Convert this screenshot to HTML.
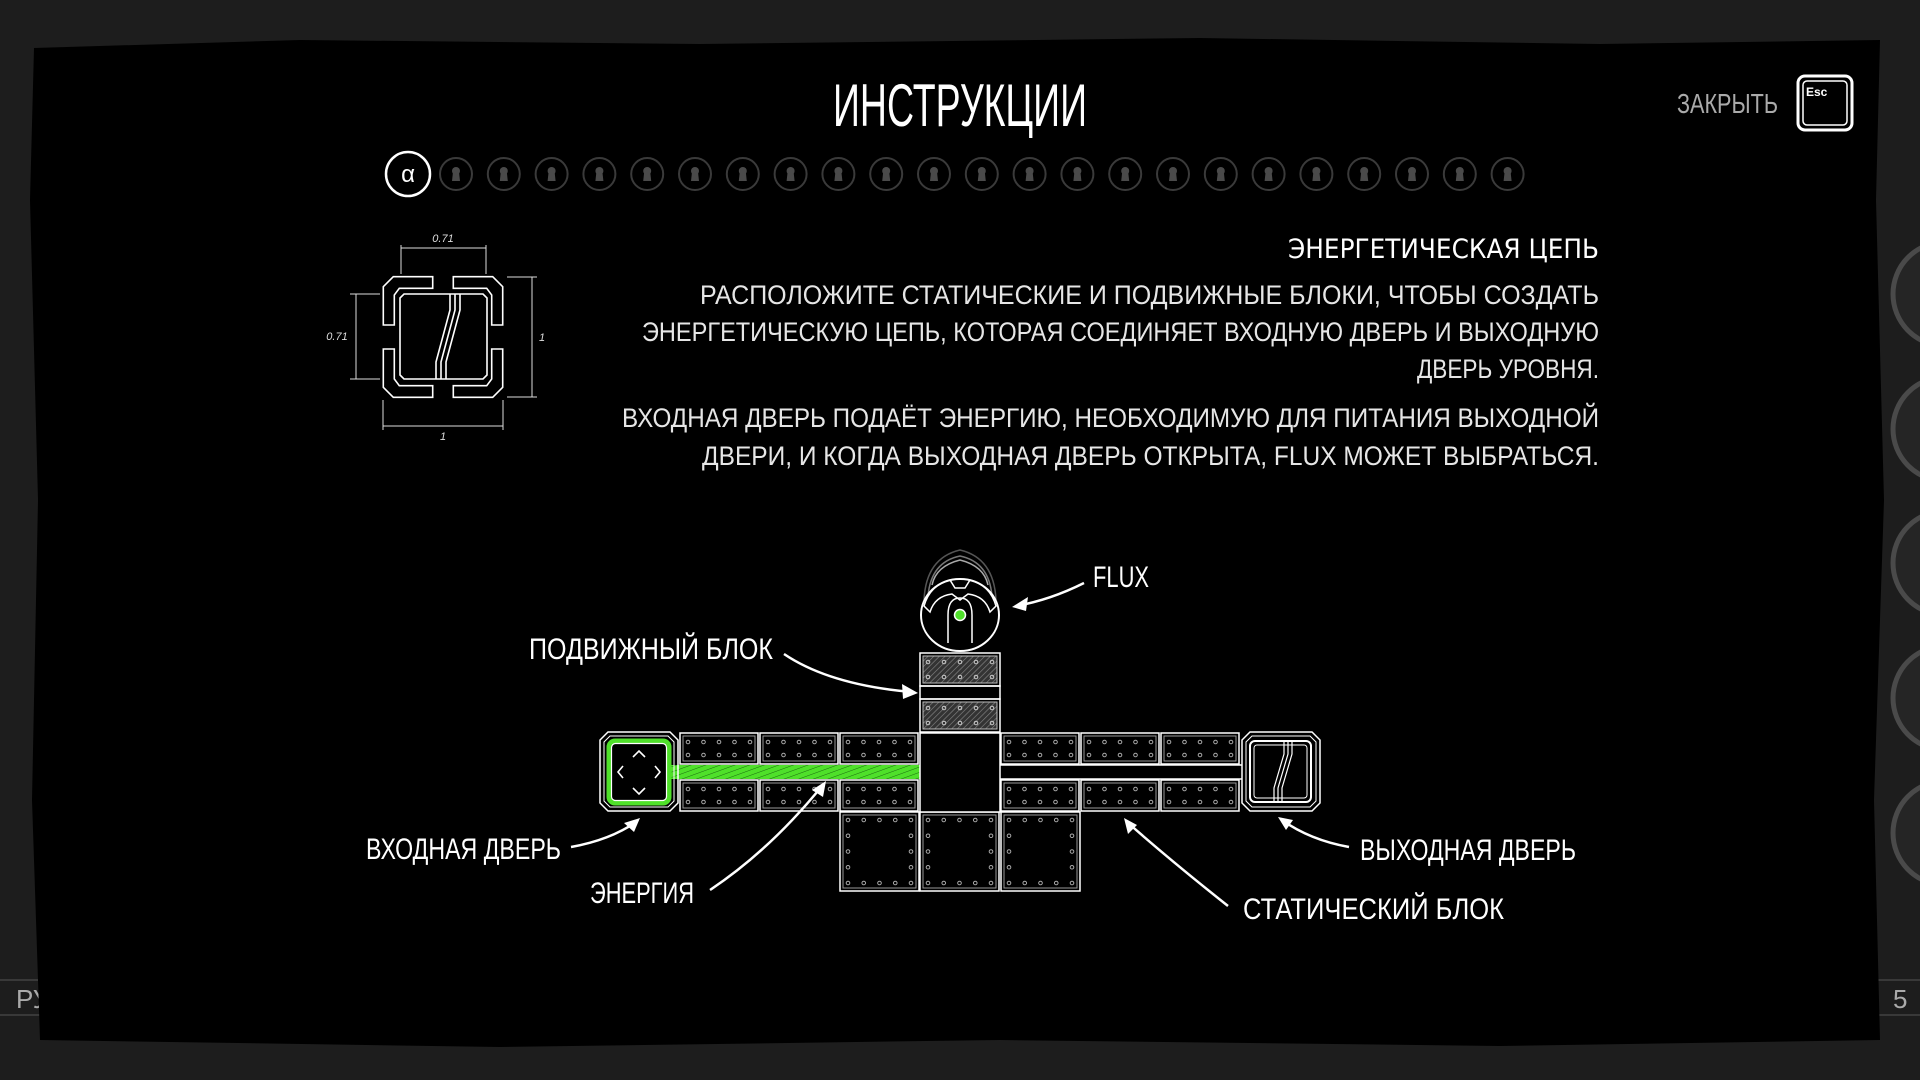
<!DOCTYPE html>
<html><head><meta charset="utf-8"><style>
html,body{margin:0;padding:0;background:#1c1c1c;width:1920px;height:1080px;overflow:hidden}
svg{display:block}
text{font-family:"DejaVu Sans ExtraLight","Liberation Sans Narrow","Liberation Sans",sans-serif}
</style></head><body>
<svg id="s" width="1920" height="1080" viewBox="0 0 1920 1080" xmlns="http://www.w3.org/2000/svg">
<defs>
<pattern id="hatch" width="4" height="4" patternUnits="userSpaceOnUse" patternTransform="rotate(45)">
<rect width="4" height="4" fill="#333"/><line x1="0" y1="0" x2="0" y2="4" stroke="#888" stroke-width="1.2"/></pattern>
<pattern id="ghatch" width="5" height="5" patternUnits="userSpaceOnUse" patternTransform="rotate(70)">
<rect width="5" height="5" fill="#4fe02a"/><line x1="0" y1="0" x2="0" y2="5" stroke="#1a6a10" stroke-width="1"/></pattern>
</defs>
<rect width="1920" height="1080" fill="#1d1d1d"/>
<g fill="#252525" stroke="#4a4a4a" stroke-width="5">
<circle cx="1945" cy="294" r="52"/><circle cx="1945" cy="429" r="52"/><circle cx="1945" cy="563" r="52"/><circle cx="1945" cy="698" r="52"/><circle cx="1945" cy="833" r="52"/>
</g>
<line x1="0" y1="980" x2="60" y2="980" stroke="#555"/><line x1="0" y1="1015" x2="60" y2="1015" stroke="#555"/>
<line x1="1860" y1="980" x2="1920" y2="980" stroke="#555"/><line x1="1860" y1="1015" x2="1920" y2="1015" stroke="#555"/>
<text x="16" y="1008" fill="#aaa" font-size="26">РУ</text>
<text x="1893" y="1008" fill="#aaa" font-size="26">5</text>
<path d="M34,48 L300,40 L700,44 L1200,38 L1600,44 L1880,40 L1876,200 L1884,500 L1874,800 L1880,1040 L1500,1046 L1000,1040 L500,1047 L40,1040 L32,800 L38,500 L30,200 Z" fill="#000"/>
<text x="960" y="126" fill="#fff" font-size="60" text-anchor="middle" textLength="254" lengthAdjust="spacingAndGlyphs">ИНСТРУКЦИИ</text>
<text x="1677" y="113" fill="#aaa" font-size="28" textLength="101" lengthAdjust="spacingAndGlyphs">ЗАКРЫТЬ</text>
<rect x="1798" y="76" width="54" height="54" rx="7" fill="none" stroke="#fff" stroke-width="3"/>
<rect x="1803" y="81" width="44" height="44" rx="4" fill="#000" stroke="#fff" stroke-width="1.5"/>
<text x="1806" y="96" fill="#fff" font-size="12" font-weight="bold" style="font-family:'Liberation Sans',sans-serif">Esc</text>
<circle cx="408" cy="174" r="22" fill="none" stroke="#fff" stroke-width="2.5"/>
<text x="408" y="182" fill="#fff" font-size="24" text-anchor="middle" style="font-family:'Liberation Sans',sans-serif">α</text>
<g id="dots"></g>
<text x="1288" y="258" fill="#fff" font-size="27" font-weight="bold" textLength="311" lengthAdjust="spacingAndGlyphs" style="font-family:'DejaVu Sans','Liberation Sans',sans-serif;font-weight:normal">ЭНЕРГЕТИЧЕСКАЯ ЦЕПЬ</text>
<g fill="#e6e6e6" font-size="27">
<text x="700" y="304" textLength="899" lengthAdjust="spacingAndGlyphs">РАСПОЛОЖИТЕ СТАТИЧЕСКИЕ И ПОДВИЖНЫЕ БЛОКИ, ЧТОБЫ СОЗДАТЬ</text>
<text x="642" y="341" textLength="957" lengthAdjust="spacingAndGlyphs">ЭНЕРГЕТИЧЕСКУЮ ЦЕПЬ, КОТОРАЯ СОЕДИНЯЕТ ВХОДНУЮ ДВЕРЬ И ВЫХОДНУЮ</text>
<text x="1417" y="378" textLength="182" lengthAdjust="spacingAndGlyphs">ДВЕРЬ УРОВНЯ.</text>
<text x="622" y="427" textLength="977" lengthAdjust="spacingAndGlyphs">ВХОДНАЯ ДВЕРЬ ПОДАЁТ ЭНЕРГИЮ, НЕОБХОДИМУЮ ДЛЯ ПИТАНИЯ ВЫХОДНОЙ</text>
<text x="702" y="465" textLength="897" lengthAdjust="spacingAndGlyphs">ДВЕРИ, И КОГДА ВЫХОДНАЯ ДВЕРЬ ОТКРЫТА, FLUX МОЖЕТ ВЫБРАТЬСЯ.</text>
</g>
<g fill="none" stroke="#fff" stroke-width="1.6">
<g id="cornerTL"><path d="M432.7,276.7 L393.3,276.7 L383.3,286.7 L383.3,325 L394.3,325 L394.3,295 L399.3,288.3 L432.7,288.3 Z"/></g>
<use href="#cornerTL" transform="translate(886,0) scale(-1,1)"/>
<use href="#cornerTL" transform="translate(0,674) scale(1,-1)"/>
<use href="#cornerTL" transform="translate(886,674) scale(-1,-1)"/>
<path d="M404,294 L483,294 L487,298 L487,375 L483,379 L404,379 L400,375 L400,298 Z"/>
<path d="M450,294 L450,310 L436,362 L436,379 M455,294 L455,310 L441,362 L441,379 M460,294 L460,310 L446,362 L446,379"/>
</g>
<g stroke="#ddd" stroke-width="1" fill="none">
<line x1="401" y1="245" x2="401" y2="274"/><line x1="486" y1="245" x2="486" y2="274"/><line x1="401" y1="248" x2="486" y2="248"/>
<line x1="350" y1="294" x2="380" y2="294"/><line x1="350" y1="379" x2="380" y2="379"/><line x1="356" y1="294" x2="356" y2="379"/>
<line x1="507" y1="277" x2="537" y2="277"/><line x1="507" y1="397" x2="537" y2="397"/><line x1="532" y1="277" x2="532" y2="397"/>
<line x1="383" y1="400" x2="383" y2="430"/><line x1="503" y1="400" x2="503" y2="430"/><line x1="383" y1="426" x2="503" y2="426"/>
</g>
<g fill="#ddd" font-size="11" font-style="italic" text-anchor="middle" style="font-family:'Liberation Sans',sans-serif">
<text x="443" y="242">0.71</text><text x="337" y="340">0.71</text><text x="542" y="341">1</text><text x="443" y="440">1</text>
</g>
<g id="diag" fill="none" stroke="#fff" stroke-width="1.5"></g>
<g fill="none" stroke="#fff" stroke-width="1.5">
<path d="M924,600 Q926,558 960,550 Q994,558 996,600" stroke="#555"/>
<path d="M928,596 Q931,562 960,556 Q989,562 992,596" stroke="#777"/>
<path d="M932,585 Q936,566 960,560 Q984,566 988,585" stroke="#aaa"/>
<ellipse cx="960" cy="615" rx="39" ry="36" stroke-width="2"/>
<path d="M924,606 Q930,585 950,580 L955,588 L965,588 L970,580 Q990,585 996,606 L990,612 Q985,596 968,594 L960,600 L952,594 Q935,596 930,612 Z"/>
<path d="M948,643 L948,615 Q948,598 960,598 Q972,598 972,615 L972,643"/>
</g>
<circle cx="960" cy="615" r="5.5" fill="#4fe02a" stroke="#fff" stroke-width="1.5"/>
<g fill="#fff" font-size="30">
<text x="1093" y="587" textLength="56" lengthAdjust="spacingAndGlyphs">FLUX</text>
<text x="529" y="659" textLength="244" lengthAdjust="spacingAndGlyphs">ПОДВИЖНЫЙ БЛОК</text>
<text x="366" y="859" textLength="195" lengthAdjust="spacingAndGlyphs">ВХОДНАЯ ДВЕРЬ</text>
<text x="590" y="903" textLength="104" lengthAdjust="spacingAndGlyphs">ЭНЕРГИЯ</text>
<text x="1243" y="919" textLength="261" lengthAdjust="spacingAndGlyphs">СТАТИЧЕСКИЙ БЛОК</text>
<text x="1360" y="860" textLength="216" lengthAdjust="spacingAndGlyphs">ВЫХОДНАЯ ДВЕРЬ</text>
</g>
<g fill="none" stroke="#fff" stroke-width="2.5">
<path d="M1084,583 Q1050,600 1016,606"/>
<path d="M784,654 Q830,685 912,692"/>
<path d="M571,847 Q610,840 636,822"/>
<path d="M710,890 Q770,850 822,786"/>
<path d="M1228,906 Q1170,860 1127,822"/>
<path d="M1349,847 Q1310,840 1282,820"/>
</g>
<g fill="#fff">
<path d="M1012,607 L1028,597 L1026,611 Z"/>
<path d="M918,693 L902,684 L903,699 Z"/>
<path d="M640,818 L624,823 L634,832 Z"/>
<path d="M826,781 L812,790 L823,797 Z"/>
<path d="M1124,818 L1128,834 L1137,825 Z"/>
<path d="M1278,817 L1286,830 L1293,820 Z"/>
</g>
</svg>
<script>
var NS="http://www.w3.org/2000/svg";
function el(p,t,a){var e=document.createElementNS(NS,t);for(var k in a)e.setAttribute(k,a[k]);p.appendChild(e);return e;}
var dots=document.getElementById('dots');
for(var i=0;i<23;i++){var cx=456+i*47.8;
el(dots,'circle',{cx:cx,cy:174,r:16,fill:'none',stroke:'#3a3a3a','stroke-width':2});
el(dots,'circle',{cx:cx,cy:171,r:4,fill:'#4a4a4a'});
el(dots,'path',{d:'M'+(cx-3)+',172 L'+(cx+3)+',172 L'+(cx+4)+',181 L'+(cx-4)+',181 Z',fill:'#4a4a4a'});}
var d=document.getElementById('diag');
function sblock(x,y,w,h,big){
el(d,'rect',{x:x,y:y,width:w,height:h});
el(d,'rect',{x:x+3,y:y+3,width:w-6,height:h-6,stroke:'#999','stroke-width':1});
var xs=[];for(var i=0;i<5;i++)xs.push(x+8+i*(w-16)/4);
if(!big){xs.forEach(function(cx){el(d,'circle',{cx:cx,cy:y+9,r:1.8,stroke:'#aaa','stroke-width':1});el(d,'circle',{cx:cx,cy:y+h-9,r:1.8,stroke:'#aaa','stroke-width':1});});}
else{xs.forEach(function(cx){el(d,'circle',{cx:cx,cy:y+8,r:1.8,stroke:'#aaa','stroke-width':1});el(d,'circle',{cx:cx,cy:y+h-8,r:1.8,stroke:'#aaa','stroke-width':1});});
for(var j=1;j<4;j++){var cy=y+8+j*(h-16)/4;el(d,'circle',{cx:x+8,cy:cy,r:1.8,stroke:'#aaa','stroke-width':1});el(d,'circle',{cx:x+w-8,cy:cy,r:1.8,stroke:'#aaa','stroke-width':1});}}}
function mblock(x,y,w,h){
el(d,'rect',{x:x,y:y,width:w,height:h});
el(d,'rect',{x:x+3,y:y+3,width:w-6,height:h-6,fill:'url(#hatch)',stroke:'#bbb','stroke-width':1});
for(var i=0;i<5;i++){var cx=x+8+i*(w-16)/4;el(d,'circle',{cx:cx,cy:y+9,r:1.8,stroke:'#ccc','stroke-width':1});el(d,'circle',{cx:cx,cy:y+h-9,r:1.8,stroke:'#ccc','stroke-width':1});}}
var cols=[680,760,840],rcols=[1001,1081,1161];
el(d,'rect',{x:670,y:765,width:250,height:14,fill:'url(#ghatch)',stroke:'none'});
el(d,'line',{x1:1000,y1:765,x2:1242,y2:765});el(d,'line',{x1:1000,y1:779,x2:1242,y2:779});
cols.concat(rcols).forEach(function(x){sblock(x,733,78,31,false);sblock(x,780,78,31,false);});
[840,920,1001].forEach(function(x){sblock(x,812,79,79,true);});
el(d,'rect',{x:920,y:733,width:80,height:79,fill:'#000'});
mblock(920,653,80,33);
el(d,'rect',{x:920,y:686,width:80,height:13});
mblock(920,699,80,33);
function door(x){
el(d,'path',{d:'M'+(x+8)+',732 L'+(x+70)+',732 L'+(x+78)+',740 L'+(x+78)+',803 L'+(x+70)+',811 L'+(x+8)+',811 L'+x+',803 L'+x+',740 Z'});
el(d,'path',{d:'M'+(x+10)+',736 L'+(x+68)+',736 L'+(x+74)+',742 L'+(x+74)+',801 L'+(x+68)+',807 L'+(x+10)+',807 L'+(x+4)+',801 L'+(x+4)+',742 Z','stroke-width':1});}
door(600);door(1242);
el(d,'rect',{x:609,y:741,width:60,height:62,rx:6,stroke:'#4fe02a','stroke-width':5});
el(d,'rect',{x:611.5,y:743.5,width:55,height:57,rx:4,stroke:'#fff','stroke-width':1.2});
el(d,'path',{d:'M633,757 L639,751 L645,757 M633,788 L639,794 L645,788 M623,766 L618,772 L623,778 M655,766 L660,772 L655,778','stroke-width':1.6});
el(d,'rect',{x:1250,y:741,width:61,height:61,rx:5,'stroke-width':2});
el(d,'rect',{x:1254,y:745,width:53,height:53,rx:3,'stroke-width':1});
el(d,'path',{d:'M1284,741 L1284,754 L1274,788 L1274,802 M1288,741 L1288,754 L1278,788 L1278,802 M1292,741 L1292,754 L1282,788 L1282,802','stroke-width':1.2});
</script>
</body></html>
